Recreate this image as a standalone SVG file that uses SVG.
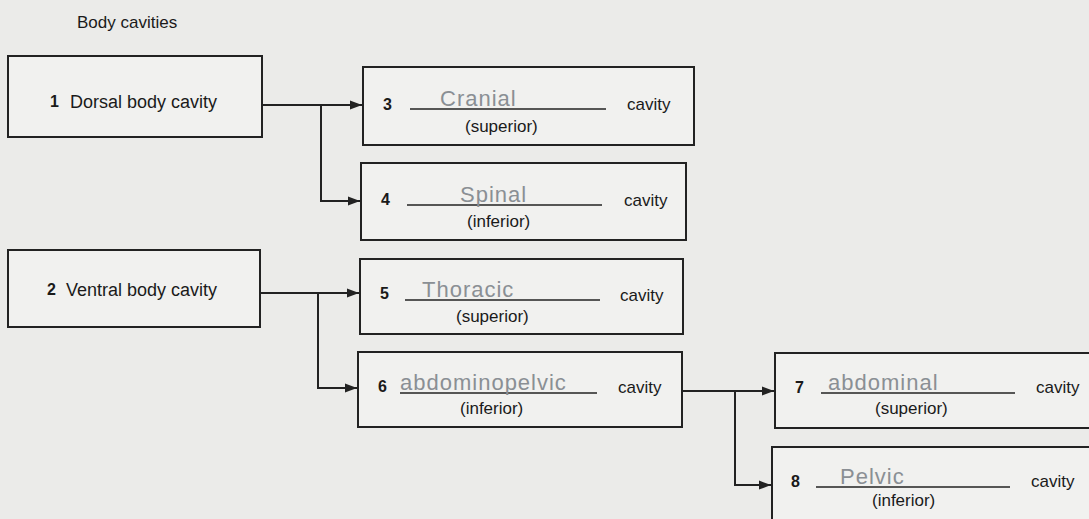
<svg xmlns="http://www.w3.org/2000/svg" width="1089" height="519" viewBox="0 0 1089 519">
<style>
.bg{fill:#ebebe9}
.box{fill:#f1f1ef;stroke:#222;stroke-width:2}
.t{font-family:"Liberation Sans",Arial,sans-serif;font-size:17px;fill:#1a1a1a}
.b{font-size:18px}
.n{font-family:"Liberation Sans",Arial,sans-serif;font-size:16px;font-weight:bold;fill:#1a1a1a}
.h{font-family:"Liberation Sans",Arial,sans-serif;font-size:22px;fill:#8a8f94;letter-spacing:1px}
.ul{stroke:#222;stroke-width:1.3}
.c{fill:none;stroke:#222;stroke-width:2}
</style>
<defs>
<marker id="ah" viewBox="0 0 12 10" refX="12" refY="5" markerWidth="13" markerHeight="10" markerUnits="userSpaceOnUse" orient="auto">
<path d="M0,0.5 L12,5 L0,9.5 z" fill="#222"/>
</marker>
</defs>
<rect class="bg" x="0" y="0" width="1089" height="519"/>
<text class="t" x="77" y="28" font-size="19">Body cavities</text>

<g id="node1">
<rect class="box" x="8" y="56" width="254" height="81"/>
<text class="n" x="50" y="107">1</text>
<text class="t b" x="70" y="108">Dorsal body cavity</text>
</g>
<g id="node2">
<rect class="box" x="8" y="250" width="252" height="77"/>
<text class="n" x="47" y="295">2</text>
<text class="t b" x="66" y="296">Ventral body cavity</text>
</g>
<g id="node3">
<rect class="box" x="363" y="67" width="331" height="78"/>
<text class="n" x="383" y="110">3</text>
<line class="ul" x1="410" y1="109" x2="606" y2="109"/>
<text class="h" x="440" y="106">Cranial</text>
<text class="t" x="627" y="110">cavity</text>
<text class="t" x="465" y="132">(superior)</text>
</g>
<g id="node4">
<rect class="box" x="361" y="163" width="325" height="77"/>
<text class="n" x="381" y="205">4</text>
<line class="ul" x1="407" y1="205" x2="602" y2="205"/>
<text class="h" x="460" y="202">Spinal</text>
<text class="t" x="624" y="206">cavity</text>
<text class="t" x="467" y="227">(inferior)</text>
</g>
<g id="node5">
<rect class="box" x="360" y="259" width="323" height="75"/>
<text class="n" x="380" y="299">5</text>
<line class="ul" x1="405" y1="300" x2="600" y2="300"/>
<text class="h" x="422" y="297">Thoracic</text>
<text class="t" x="620" y="301">cavity</text>
<text class="t" x="456" y="322">(superior)</text>
</g>
<g id="node6">
<rect class="box" x="358" y="352" width="324" height="75"/>
<text class="n" x="378" y="392">6</text>
<line class="ul" x1="400" y1="393" x2="597" y2="393"/>
<text class="h" x="400" y="390" font-size="20" letter-spacing="0">abdominopelvic</text>
<text class="t" x="618" y="393">cavity</text>
<text class="t" x="460" y="414">(inferior)</text>
</g>
<g id="node7">
<rect class="box" x="775" y="353" width="320" height="75"/>
<text class="n" x="795" y="393">7</text>
<line class="ul" x1="821" y1="393" x2="1015" y2="393"/>
<text class="h" x="828" y="390">abdominal</text>
<text class="t" x="1036" y="393">cavity</text>
<text class="t" x="875" y="414">(superior)</text>
</g>
<g id="node8">
<rect class="box" x="772" y="447" width="325" height="80"/>
<text class="n" x="791" y="487">8</text>
<line class="ul" x1="816" y1="487" x2="1010" y2="487"/>
<text class="h" x="840" y="484">Pelvic</text>
<text class="t" x="1031" y="487">cavity</text>
<text class="t" x="872" y="506">(inferior)</text>
</g>

<g id="connectors">
<path class="c" d="M262,105 H362" marker-end="url(#ah)"/>
<path class="c" d="M321,105 V201 H360" marker-end="url(#ah)"/>
<path class="c" d="M260,293 H359" marker-end="url(#ah)"/>
<path class="c" d="M318,293 V388 H357" marker-end="url(#ah)"/>
<path class="c" d="M682,391 H774" marker-end="url(#ah)"/>
<path class="c" d="M735,391 V485 H771" marker-end="url(#ah)"/>
</g>
</svg>
